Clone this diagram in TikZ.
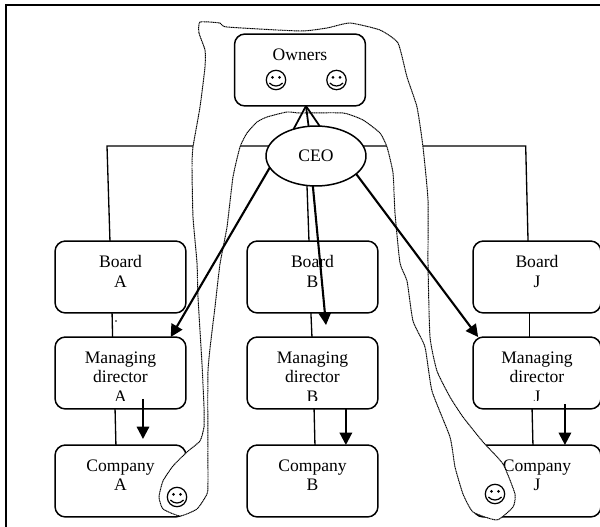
\documentclass[tikz,border=0pt]{standalone}
\usepackage{fontspec}
\setmainfont{Liberation Serif}
\usetikzlibrary{arrows.meta}
\usetikzlibrary{shapes.geometric}

\begin{document}
\begin{tikzpicture}[
	x=0.02cm,
	y=-0.02cm,
	every node/.style={font=\fontsize{10}{11.3}\selectfont},
	orgbox/.style={draw, fill=white, rectangle, rounded corners=2.1mm, line width=0.85pt,
		minimum width=2.62cm, minimum height=1.44cm, outer sep=0pt, inner sep=0pt,
		align=center, text depth=6.7pt},
	plainline/.style={line width=0.75pt},
	orgarrow/.style={line width=1.2pt, -{Triangle[length=7pt, width=7pt]}},
	loopline/.style={fill=white, line width=0.55pt, dash pattern=on 0.7pt off 0.3pt},
	smiley/.pic={
		\draw[line width=0.7pt] (0,0) circle (9.7);
		\fill (-3.6,-2.6) circle (1.5);
		\fill (3.6,-2.6) circle (1.5);
		\draw[line width=0.7pt] (-6.6,3) .. controls (-3,7) and (3,7) .. (6.6,3);
	}
]
\useasboundingbox (0,0) rectangle (600,527);

\draw[line width=1pt] (6,527) -- (6,5) -- (600,5);

\node[orgbox] (boarda) at (120.5,277) {Board\\A};
\node[orgbox] (boardb) at (312.5,277) {Board\\B};
\node[orgbox, minimum width=2.56cm] (boardj) at (537,277) {Board\\J};
\node[orgbox] (mda) at (120.5,373) {Managing\\director};
\node[orgbox] (mdb) at (312.5,373) {Managing\\director};
\node[orgbox, minimum width=2.56cm] (mdj) at (537,373) {Managing\\director};
\node[orgbox] (companya) at (120.5,481) {Company\\A};
\node[orgbox] (companyb) at (312.5,481) {Company\\B};
\node[orgbox, minimum width=2.56cm] (companyj) at (537,481) {Company\\J};

% last line is cut by the box
\begin{scope}
\clip (0,0) rectangle (600,401);
\node[anchor=base] (mdaletter) at (120.5,403) {A};
\node[anchor=base] (mdbletter) at (312.5,403) {B};
\node[anchor=base] (mdjletter) at (537,403) {J};
\end{scope}

\coordinate (treeleft) at (107,146);
\coordinate (treeright) at (525.7,146);
\draw[plainline] ([xshift=-6pt]boarda.north) -- (treeleft) -- (treeright) -- ([xshift=-5.1pt]boardj.north);

\draw[plainline] ([xshift=-4.8pt]boarda.south) -- ([xshift=-4.5pt]mda.north);
\draw[plainline] ([xshift=-3.1pt]mda.south) -- ([xshift=-2.6pt]companya.north);
\draw[plainline] ([xshift=-0.9pt]boardb.south) -- ([xshift=-0.3pt]mdb.north);
\draw[plainline] ([xshift=0.9pt]mdb.south) -- ([xshift=1.4pt]companyb.north);
\draw[plainline] ([xshift=-4.2pt]boardj.south) -- ([xshift=-4.2pt]mdj.north);
\draw[plainline] ([xshift=-2.8pt]mdj.south) -- ([xshift=-2.3pt]companyj.north);
\fill (116,321) circle (0.8);

\draw[loopline] plot[smooth cycle, tension=0.3] coordinates {
	(200,22) (199,33) (205,50) (205,67) (200,107) (193,147) (192,167) (193,217)
	(197,263) (198,297) (202,364) (204,407) (204,427) (200,441) (187,452) (173,466)
	(163,481) (159,497) (163,509) (180,516) (197,509) (207,494) (208,481) (208,371)
	(215,307) (220,264) (227,227) (233,177) (240,147) (247,133) (257,122) (267,117)
	(287,112) (300,113) (343,113) (363,120) (380,133) (387,147) (393,173) (395,213)
	(400,263) (407,281) (413,321) (425,347) (432,391) (450,437) (455,467) (463,494)
	(473,512) (497,520) (513,507) (515,494) (503,464) (483,442) (463,417) (450,397)
	(437,371) (430,337) (428,263) (428,200) (423,147) (417,107) (407,77) (398,43)
	(380,30) (350,23) (327,28) (300,31) (227,27) (220,23)
};

\node[orgbox, text depth=18pt] (owners) at (300,70) {Owners};
\node[draw, fill=white, ellipse, line width=0.85pt, minimum width=2cm, minimum height=1.2cm,
	inner sep=0pt, outer sep=0pt] (ceo) at (316,156) {CEO};

\draw[plainline, line width=1pt] ([xshift=3.4pt]owners.south) -- (ceo.130);
\draw[plainline, line width=1pt] ([xshift=3.4pt]owners.south) -- (ceo.104);
\draw[plainline, line width=1pt] ([xshift=3.4pt]owners.south) -- (ceo.83);
\draw[plainline] (ceo.253) -- ([xshift=-2pt]boardb.north);

\draw[orgarrow] (ceo.194) -- ([xshift=28.6pt]mda.north);
\draw[orgarrow] (ceo.264) -- ([xshift=7.7pt, yshift=6.8pt]mdb.north);
\draw[orgarrow] (ceo.336) -- ([xshift=-33.5pt]mdj.north);
\draw[orgarrow] ([xshift=12.8pt, yshift=5.7pt]mda.south) -- ([xshift=12.8pt, yshift=3.4pt]companya.north);
\draw[orgarrow] ([xshift=19pt]mdb.south) -- ([xshift=19pt]companyb.north);
\draw[orgarrow] ([xshift=15.9pt, yshift=2.8pt]mdj.south) -- ([xshift=15.9pt]companyj.north);

\pic at (276,80) {smiley};
\pic at (336.5,80) {smiley};
\pic at (177,497) {smiley};
\pic at (495,494) {smiley};
\end{tikzpicture}
\end{document}
